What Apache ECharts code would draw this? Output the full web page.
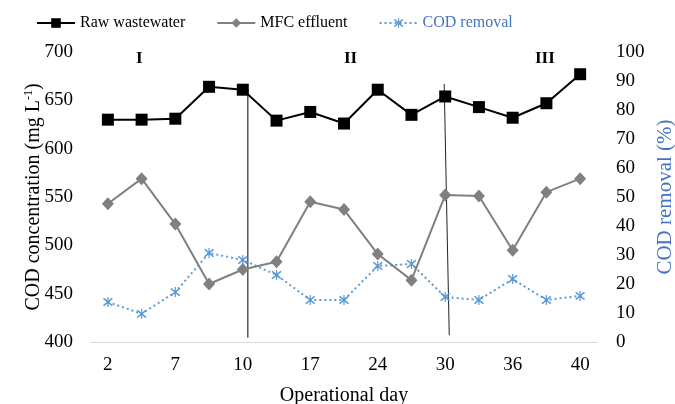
<!DOCTYPE html>
<html>
<head>
<meta charset="utf-8">
<script src="https://cdn.jsdelivr.net/npm/echarts@6/dist/echarts.min.js"></script>
<style>html,body{margin:0;padding:0;background:#fff}#c{width:675px;height:404px}</style>
</head>
<body>
<div id="c"></div>
<script>
const days = ['2','4','7','8','10','14','17','21','24','27','30','33','36','38','40'];
const rawWastewater = [630,630,631,664,661,629,638,626,661,635,654,643,632,647,677];
const mfcEffluent = [543,569,522,460,475,483,545,537,491,464,552,551,495,555,569];
const codRemoval = [13.8,9.7,17.2,30.7,28.3,23.1,14.5,14.5,26.2,26.9,15.5,14.5,21.7,14.5,15.9];
const leftTicks = {min:400, max:700, interval:50};
const rightTicks = {min:0, max:100, interval:10};
// phase separators: [position along day index axis (0..15), concentration]
const sep1 = [[4.65,661.5],[4.65,404.5]];
const sep2 = [[10.47,667],[10.62,407]];
const phases = ['I','II','III'];

const FONT = 'Liberation Serif';
const star = 'path://M4.4,0 L5.6,0 L5.6,10 L4.4,10 Z M0,1.8 L1.2,0.8 L10,8.2 L8.8,9.2 Z M8.8,0.8 L10,1.8 L1.2,9.2 L0,8.2 Z';

const chart = echarts.init(document.getElementById('c'), null, {renderer:'canvas'});
chart.setOption({
  animation:false,
  textStyle:{fontFamily:FONT},
  grid:{left:91, right:78, top:52, bottom:62, outerBoundsMode:'none', containLabel:false},
  legend:{
    left:31, top:10, itemGap:31, itemWidth:38, itemHeight:12,
    textStyle:{fontFamily:FONT, fontSize:16, color:'#000'},
    data:['Raw wastewater','MFC effluent',{name:'COD removal', textStyle:{color:'#4472C4'}}]
  },
  xAxis:[{
    type:'category', data:days, boundaryGap:true,
    axisLine:{lineStyle:{color:'#d9d9d9', width:1}},
    axisTick:{show:false},
    axisLabel:{interval:1, color:'#000', fontFamily:FONT, fontSize:19, margin:14},
    name:'Operational day', nameLocation:'middle', nameGap:44, nameMoveOverlap:false,
    nameTextStyle:{fontFamily:FONT, fontSize:20, color:'#000'}
  },{
    type:'value', min:0, max:15, show:false
  }],
  yAxis:[{
    type:'value', min:leftTicks.min, max:leftTicks.max, interval:leftTicks.interval,
    axisLine:{show:false}, axisTick:{show:false}, splitLine:{show:false},
    axisLabel:{color:'#000', fontFamily:FONT, fontSize:19, margin:18},
    name:'COD concentration (mg L{sup|-1})', nameLocation:'middle', nameRotate:90, nameGap:47,
    nameMoveOverlap:false,
    nameTextStyle:{fontFamily:FONT, fontSize:20, color:'#000',
      rich:{sup:{fontFamily:FONT, fontSize:12, color:'#000', padding:[0,0,9,0]}}}
  },{
    type:'value', min:rightTicks.min, max:rightTicks.max, interval:rightTicks.interval,
    axisLine:{show:false}, axisTick:{show:false}, splitLine:{show:false},
    axisLabel:{color:'#000', fontFamily:FONT, fontSize:19, margin:19},
    name:'COD removal (%)', nameLocation:'middle', nameRotate:90, nameGap:58,
    nameMoveOverlap:false,
    nameTextStyle:{fontFamily:FONT, fontSize:21, color:'#4472C4'}
  }],
  graphic:[
    {type:'text', left:136, top:50, style:{text:phases[0], font:'bold 17px "Liberation Serif"', fill:'#000'}},
    {type:'text', left:344, top:50, style:{text:phases[1], font:'bold 17px "Liberation Serif"', fill:'#000'}},
    {type:'text', left:535, top:50, style:{text:phases[2], font:'bold 17px "Liberation Serif"', fill:'#000'}}
  ],
  series:[
    {name:'sep1', type:'line', xAxisIndex:1, yAxisIndex:0, data:sep1, symbol:'none',
     lineStyle:{color:'#000', width:1}, silent:true, z:1},
    {name:'sep2', type:'line', xAxisIndex:1, yAxisIndex:0, data:sep2, symbol:'none',
     lineStyle:{color:'#222', width:1}, silent:true, z:1},
    {name:'Raw wastewater', type:'line', data:rawWastewater, yAxisIndex:0,
     symbol:'rect', symbolSize:12, itemStyle:{color:'#000'}, lineStyle:{color:'#000', width:2}, z:3},
    {name:'MFC effluent', type:'line', data:mfcEffluent, yAxisIndex:0,
     symbol:'diamond', symbolSize:[12,13], itemStyle:{color:'#808080'}, lineStyle:{color:'#808080', width:2}, z:3},
    {name:'COD removal', type:'line', data:codRemoval, yAxisIndex:1,
     symbol:star, symbolSize:10, itemStyle:{color:'#5B9BD5'}, lineStyle:{color:'#5B9BD5', width:2, type:[2,3]}, z:2}
  ]
});
</script>
</body>
</html>
